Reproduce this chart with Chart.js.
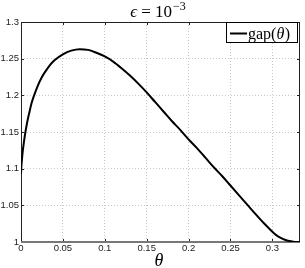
<!DOCTYPE html>
<html>
<head>
<meta charset="utf-8">
<script src="https://cdn.jsdelivr.net/npm/chart.js@4/dist/chart.umd.min.js"></script>
<style>
html,body{margin:0;padding:0;background:#fff;}
#wrap{width:305px;height:268px;position:relative;}
</style>
</head>
<body>
<div id="wrap"><canvas id="c" width="305" height="268"></canvas></div>
<script>
// Data
const thetaValues = [0, 0.0005, 0.001, 0.002, 0.003, 0.005, 0.0075, 0.01, 0.0125, 0.015, 0.02, 0.025, 0.03, 0.035, 0.04, 0.05, 0.06, 0.07, 0.08, 0.09, 0.1, 0.11, 0.12, 0.13, 0.14, 0.15, 0.16, 0.17, 0.18, 0.19, 0.2, 0.21, 0.22, 0.23, 0.24, 0.25, 0.26, 0.27, 0.28, 0.29, 0.3, 0.305, 0.31, 0.315, 0.32, 0.325, 0.333];
const gapValues   = [1.093, 1.104, 1.111, 1.123, 1.132, 1.148, 1.164, 1.177, 1.189, 1.198, 1.213, 1.225, 1.234, 1.242, 1.248, 1.256, 1.261, 1.263, 1.262, 1.258, 1.253, 1.246, 1.237, 1.227, 1.216, 1.204, 1.191, 1.178, 1.165, 1.153, 1.140, 1.128, 1.115, 1.102, 1.090, 1.077, 1.064, 1.051, 1.038, 1.0255, 1.0140, 1.0090, 1.0055, 1.0030, 1.0013, 1.0004, 1.000];
const xTickValues = [0, 0.05, 0.1, 0.15, 0.2, 0.25, 0.3];
const yTickValues = [1, 1.05, 1.1, 1.15, 1.2, 1.25, 1.3];
const xRange = [0, 0.333];
const yRange = [1, 1.3];
const titleParts = ["\u03F5", " = 10"];
const titleExp = "\u22123";
const seriesName = ["gap(", "\u03B8", ")"];
const xAxisLabel = "\u03B8";

const points = thetaValues.map((t, i) => ({x: t, y: gapValues[i]}));
const fmt = v => String(Number(v.toFixed(2)));
const SERIF = '"Liberation Serif", "DejaVu Serif", serif';

const decor = {
  id: 'decor',
  beforeDatasetsDraw(chart) {
    const ctx = chart.ctx, a = chart.chartArea;
    const xs = chart.scales.x, ys = chart.scales.y;
    ctx.save();
    ctx.strokeStyle = '#222';
    ctx.lineWidth = 1;
    ctx.beginPath();
    xTickValues.forEach(v => {
      const px = Math.round(xs.getPixelForValue(v)) + 0.5;
      if (px < a.left + 2 || px > a.right - 2) return;
      ctx.moveTo(px, a.bottom); ctx.lineTo(px, a.bottom - 3);
      ctx.moveTo(px, a.top); ctx.lineTo(px, a.top + 3);
    });
    yTickValues.forEach(v => {
      const py = Math.round(ys.getPixelForValue(v)) + 0.5;
      if (py < a.top + 2 || py > a.bottom - 2) return;
      ctx.moveTo(a.left, py); ctx.lineTo(a.left + 3, py);
      ctx.moveTo(a.right, py); ctx.lineTo(a.right - 3, py);
    });
    ctx.stroke();
    ctx.strokeRect(Math.round(a.left) + 0.5, Math.round(a.top) + 0.5, Math.round(a.right - a.left) - 1, Math.round(a.bottom - a.top) - 1);
    ctx.strokeStyle = '#777';
    ctx.lineWidth = 2;
    ctx.beginPath();
    ctx.moveTo(a.left, Math.round(a.bottom)); ctx.lineTo(a.right, Math.round(a.bottom));
    ctx.stroke();
    ctx.restore();
  },
  afterDraw(chart) {
    const ctx = chart.ctx;
    ctx.save();
    ctx.fillStyle = '#000';
    ctx.textBaseline = 'alphabetic';
    // title
    ctx.font = 'italic 17px ' + SERIF;
    const w0 = ctx.measureText(titleParts[0]).width;
    ctx.font = '17px ' + SERIF;
    const w1 = ctx.measureText(titleParts[1]).width;
    ctx.font = '12px ' + SERIF;
    const we = ctx.measureText(titleExp).width;
    let tx = 158 - (w0 + w1 + we + 1) / 2;
    ctx.font = 'italic 17px ' + SERIF;
    ctx.fillText(titleParts[0], tx, 17); tx += w0;
    ctx.font = '17px ' + SERIF;
    ctx.fillText(titleParts[1], tx, 17); tx += w1 + 1;
    ctx.font = '12px ' + SERIF;
    ctx.fillText(titleExp, tx, 10);
    // x axis label
    ctx.font = 'italic 18px ' + SERIF;
    ctx.textAlign = 'center';
    ctx.fillText(xAxisLabel, 159, 266);
    ctx.textAlign = 'left';
    // legend
    const bx = 226.5, by = 22.5, bw = 71, bh = 20;
    ctx.fillStyle = '#fff';
    ctx.fillRect(bx, by, bw, bh);
    ctx.strokeStyle = '#000';
    ctx.lineWidth = 1;
    ctx.strokeRect(bx, by, bw, bh);
    ctx.lineWidth = 2;
    ctx.beginPath();
    ctx.moveTo(230, 33.5); ctx.lineTo(247, 33.5);
    ctx.stroke();
    ctx.fillStyle = '#000';
    let lx = 248;
    const ly = 38.5;
    ctx.font = '16px ' + SERIF;
    ctx.fillText(seriesName[0], lx, ly); lx += ctx.measureText(seriesName[0]).width;
    ctx.font = 'italic 16px ' + SERIF;
    ctx.fillText(seriesName[1], lx, ly); lx += ctx.measureText(seriesName[1]).width + 0.5;
    ctx.font = '16px ' + SERIF;
    ctx.fillText(seriesName[2], lx, ly);
    ctx.restore();
  }
};

new Chart(document.getElementById('c'), {
  type: 'line',
  data: {
    datasets: [{
      label: 'gap(\u03B8)',
      data: points,
      borderColor: '#000',
      borderWidth: 2,
      pointRadius: 0,
      fill: false,
      cubicInterpolationMode: 'monotone'
    }]
  },
  options: {
    responsive: false,
    animation: false,
    layout: {padding: {left: 0, right: 5, top: 22, bottom: 0}},
    plugins: {legend: {display: false}, title: {display: false}, tooltip: {enabled: false}},
    scales: {
      x: {
        type: 'linear',
        min: xRange[0], max: xRange[1],
        afterBuildTicks: s => { s.ticks = xTickValues.map(v => ({value: v})); },
        afterFit: s => { s.height = 26; },
        ticks: {callback: v => fmt(v), color: '#222', font: {family: '"Liberation Sans", Arial, sans-serif', size: 9.5}, padding: 1, maxRotation: 0, autoSkip: false},
        grid: {color: '#c8c8c8', drawTicks: false, tickLength: 0, lineWidth: 1},
        border: {display: false, dash: [1, 2]}
      },
      y: {
        type: 'linear',
        min: yRange[0], max: yRange[1],
        afterBuildTicks: s => { s.ticks = yTickValues.map(v => ({value: v})); },
        afterFit: s => { s.width = 21; },
        ticks: {callback: v => fmt(v), color: '#222', font: {family: '"Liberation Sans", Arial, sans-serif', size: 9.5}, padding: 2, autoSkip: false},
        grid: {color: '#c8c8c8', drawTicks: false, tickLength: 0, lineWidth: 1},
        border: {display: false, dash: [1, 2]}
      }
    }
  },
  plugins: [decor]
});
</script>
</body>
</html>
